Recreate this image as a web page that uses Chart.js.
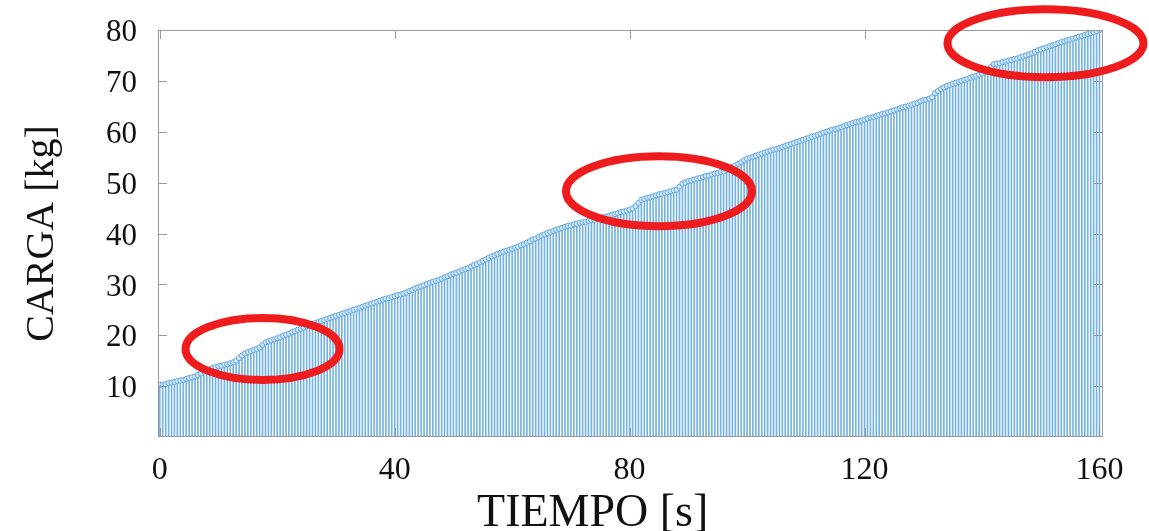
<!DOCTYPE html>
<html>
<head>
<meta charset="utf-8">
<script src="https://cdn.jsdelivr.net/npm/chart.js@4"></script>
<style>
  html, body { margin: 0; padding: 0; background: #fff; }
  #wrap { width: 1149px; height: 531px; }
</style>
</head>
<body>
<div id="wrap"><canvas id="carga"></canvas></div>
<script>
// sampling of the load test: one sample every 0.5 s starting at t = 0
const T0 = 0;
const STEP = 0.5;

// CARGA [kg], one value per sample (0 .. 160 s)
const carga = [
  10.2, 10.3, 10.4, 10.6, 10.7, 10.8, 11.0, 11.1, 11.2, 11.4, 11.6, 11.7, 11.9, 12.2, 12.5, 12.9, 12.9, 13.3, 13.6, 13.7, 13.9,
  14.0, 14.2, 14.3, 14.5, 14.7, 15.0, 15.5, 16.0, 16.4, 16.7, 16.9, 17.1, 17.3, 17.6, 18.1, 18.6, 18.8, 19.0, 19.2, 19.4,
  19.6, 19.9, 20.1, 20.3, 20.6, 20.8, 21.1, 21.3, 21.5, 21.8, 22.0, 22.2, 22.4, 22.6, 22.8, 23.0, 23.2, 23.4, 23.6, 23.8,
  24.0, 24.2, 24.4, 24.6, 24.8, 25.0, 25.2, 25.4, 25.6, 25.8, 26.0, 26.2, 26.4, 26.6, 26.8, 27.0, 27.2, 27.3, 27.5, 27.7,
  27.9, 28.0, 28.2, 28.4, 28.7, 28.9, 29.2, 29.4, 29.6, 29.8, 30.1, 30.3, 30.5, 30.7, 30.9, 31.1, 31.4, 31.6, 31.9, 32.1,
  32.3, 32.5, 32.8, 33.0, 33.2, 33.5, 33.8, 34.0, 34.3, 34.6, 34.9, 35.2, 35.5, 35.7, 36.0, 36.2, 36.4, 36.6, 36.8, 37.0,
  37.2, 37.4, 37.7, 37.9, 38.2, 38.5, 38.8, 39.0, 39.3, 39.6, 39.8, 40.1, 40.3, 40.5, 40.7, 40.9, 41.1, 41.3, 41.5, 41.6,
  41.8, 41.9, 42.1, 42.2, 42.3, 42.5, 42.6, 42.7, 42.9, 43.0, 43.2, 43.3, 43.5, 43.7, 43.8, 44.0, 44.2, 44.3, 44.5, 44.7,
  44.9, 45.4, 46.0, 46.6, 46.8, 47.0, 47.1, 47.3, 47.5, 47.7, 47.8, 48.0, 48.1, 48.3, 48.5, 48.6, 49.2, 49.8, 50.0, 50.3,
  50.4, 50.6, 50.8, 50.9, 51.1, 51.3, 51.4, 51.6, 51.8, 51.9, 52.1, 52.2, 52.5, 52.8, 53.1, 53.4, 53.7, 54.0, 54.4, 54.7,
  54.9, 55.1, 55.3, 55.5, 55.7, 55.9, 56.1, 56.3, 56.5, 56.6, 56.8, 57.0, 57.2, 57.4, 57.6, 57.8, 58.0, 58.2, 58.4, 58.6,
  58.8, 59.0, 59.2, 59.4, 59.6, 59.8, 60.0, 60.2, 60.4, 60.5, 60.7, 60.9, 61.1, 61.3, 61.5, 61.7, 61.9, 62.0, 62.2, 62.4,
  62.6, 62.8, 62.9, 63.1, 63.3, 63.5, 63.6, 63.8, 64.0, 64.2, 64.4, 64.6, 64.8, 64.9, 65.1, 65.3, 65.5, 65.7, 66.0, 66.2,
  66.3, 66.5, 66.8, 67.6, 68.0, 68.4, 68.7, 69.0, 69.2, 69.4, 69.6, 69.8, 70.0, 70.2, 70.4, 70.6, 70.8, 71.0, 71.2, 71.4,
  71.8, 72.2, 72.7, 73.3, 73.4, 73.5, 73.7, 73.8, 74.0, 74.1, 74.3, 74.4, 74.6, 74.8, 75.0, 75.2, 75.4, 75.7, 76.0, 76.2,
  76.4, 76.6, 76.8, 77.0, 77.2, 77.4, 77.6, 77.8, 78.0, 78.1, 78.3, 78.5, 78.7, 78.8, 79.0, 79.2, 79.4, 79.6, 79.8, 80.0
];

const xTicks = [0, 40, 80, 120, 160];
const yTicks = [10, 20, 30, 40, 50, 60, 70, 80];
const xTitle = "TIEMPO [s]";

// red marks drawn over the plot: centre in data units, radii in px
const circled = [
  { t: 17.5, v: 17.3, rx: 77, ry: 31 },
  { t: 85.0, v: 48.3, rx: 93, ry: 35 },
  { t: 150.8, v: 77.4, rx: 98, ry: 34 }
];

const pts = carga.map((v, i) => ({ x: T0 + i * STEP, y: v }));

const serif = "'Liberation Serif', 'DejaVu Serif', serif";

// MATLAB-like box with inward ticks, the x title, and the red ellipses on top
const boxPlugin = {
  id: "box",
  afterDraw(chart) {
    const { ctx, chartArea: a, scales } = chart;
    ctx.save();
    ctx.strokeStyle = "#9a9a9a";
    ctx.lineWidth = 1;
    ctx.strokeRect(a.left + 0.5, a.top + 0.5, a.right - a.left - 1, a.bottom - a.top - 1);
    ctx.beginPath();
    yTicks.forEach((t) => {
      const y = Math.round(scales.y.getPixelForValue(t)) + 0.5;
      ctx.moveTo(a.left, y); ctx.lineTo(a.left + 9, y);
      ctx.moveTo(a.right, y); ctx.lineTo(a.right - 9, y);
    });
    xTicks.forEach((t) => {
      const x = Math.round(scales.x.getPixelForValue(t)) + 0.5;
      ctx.moveTo(x, a.bottom); ctx.lineTo(x, a.bottom - 9);
      ctx.moveTo(x, a.top); ctx.lineTo(x, a.top + 9);
    });
    ctx.stroke();

    // axis title sits a bit left of the plot centre in the original
    ctx.fillStyle = "#111";
    ctx.font = "46px " + serif;
    ctx.textAlign = "center";
    ctx.textBaseline = "alphabetic";
    ctx.fillText(xTitle, a.left + (a.right - a.left) * 0.46, 526);

    ctx.strokeStyle = "#ee1c1c";
    ctx.lineWidth = 8;
    circled.forEach((c) => {
      ctx.beginPath();
      ctx.ellipse(scales.x.getPixelForValue(c.t), scales.y.getPixelForValue(c.v), c.rx, c.ry, 0, 0, Math.PI * 2);
      ctx.stroke();
    });
    ctx.restore();
  }
};

new Chart(document.getElementById("carga"), {
  type: "bar",
  data: {
    datasets: [
      {
        type: "line",
        data: pts,
        showLine: false,
        pointRadius: 2.6,
        pointBorderWidth: 1,
        pointBorderColor: "#62a8de",
        pointBackgroundColor: "rgba(214,234,250,0.9)",
        order: 0
      },
      {
        type: "bar",
        data: pts,
        barThickness: 1,
        backgroundColor: "rgba(55,145,215,0.7)",
        borderWidth: 0,
        order: 1
      }
    ]
  },
  options: {
    responsive: true,
    maintainAspectRatio: false,
    animation: false,
    layout: { padding: { left: 0, right: 46, top: 30, bottom: 0 } },
    plugins: { legend: { display: false }, tooltip: { enabled: false } },
    scales: {
      x: {
        type: "linear",
        offset: false,
        min: -0.3,
        max: 160.6,
        afterBuildTicks: (s) => { s.ticks = xTicks.map((v) => ({ value: v })); },
        afterFit: (s) => { s.height = 94; s.paddingLeft = 0; s.paddingRight = 0; },
        grid: { display: false, drawTicks: false },
        border: { display: false },
        ticks: { color: "#111", font: { family: serif, size: 32 }, padding: 14, maxRotation: 0 }
      },
      y: {
        min: 0,
        max: 80,
        afterBuildTicks: (s) => { s.ticks = yTicks.map((v) => ({ value: v })); },
        afterFit: (s) => { s.width = 158; s.paddingTop = 0; s.paddingBottom = 0; },
        grid: { display: false, drawTicks: false },
        border: { display: false },
        ticks: { color: "#111", font: { family: serif, size: 31 }, padding: 21, labelOffset: 3 },
        title: {
          display: true,
          text: "CARGA [kg]",
          color: "#111",
          font: { family: serif, size: 40, lineHeight: 1 },
          padding: { top: 22, bottom: 0 }
        }
      }
    }
  },
  plugins: [boxPlugin]
});
</script>
</body>
</html>
